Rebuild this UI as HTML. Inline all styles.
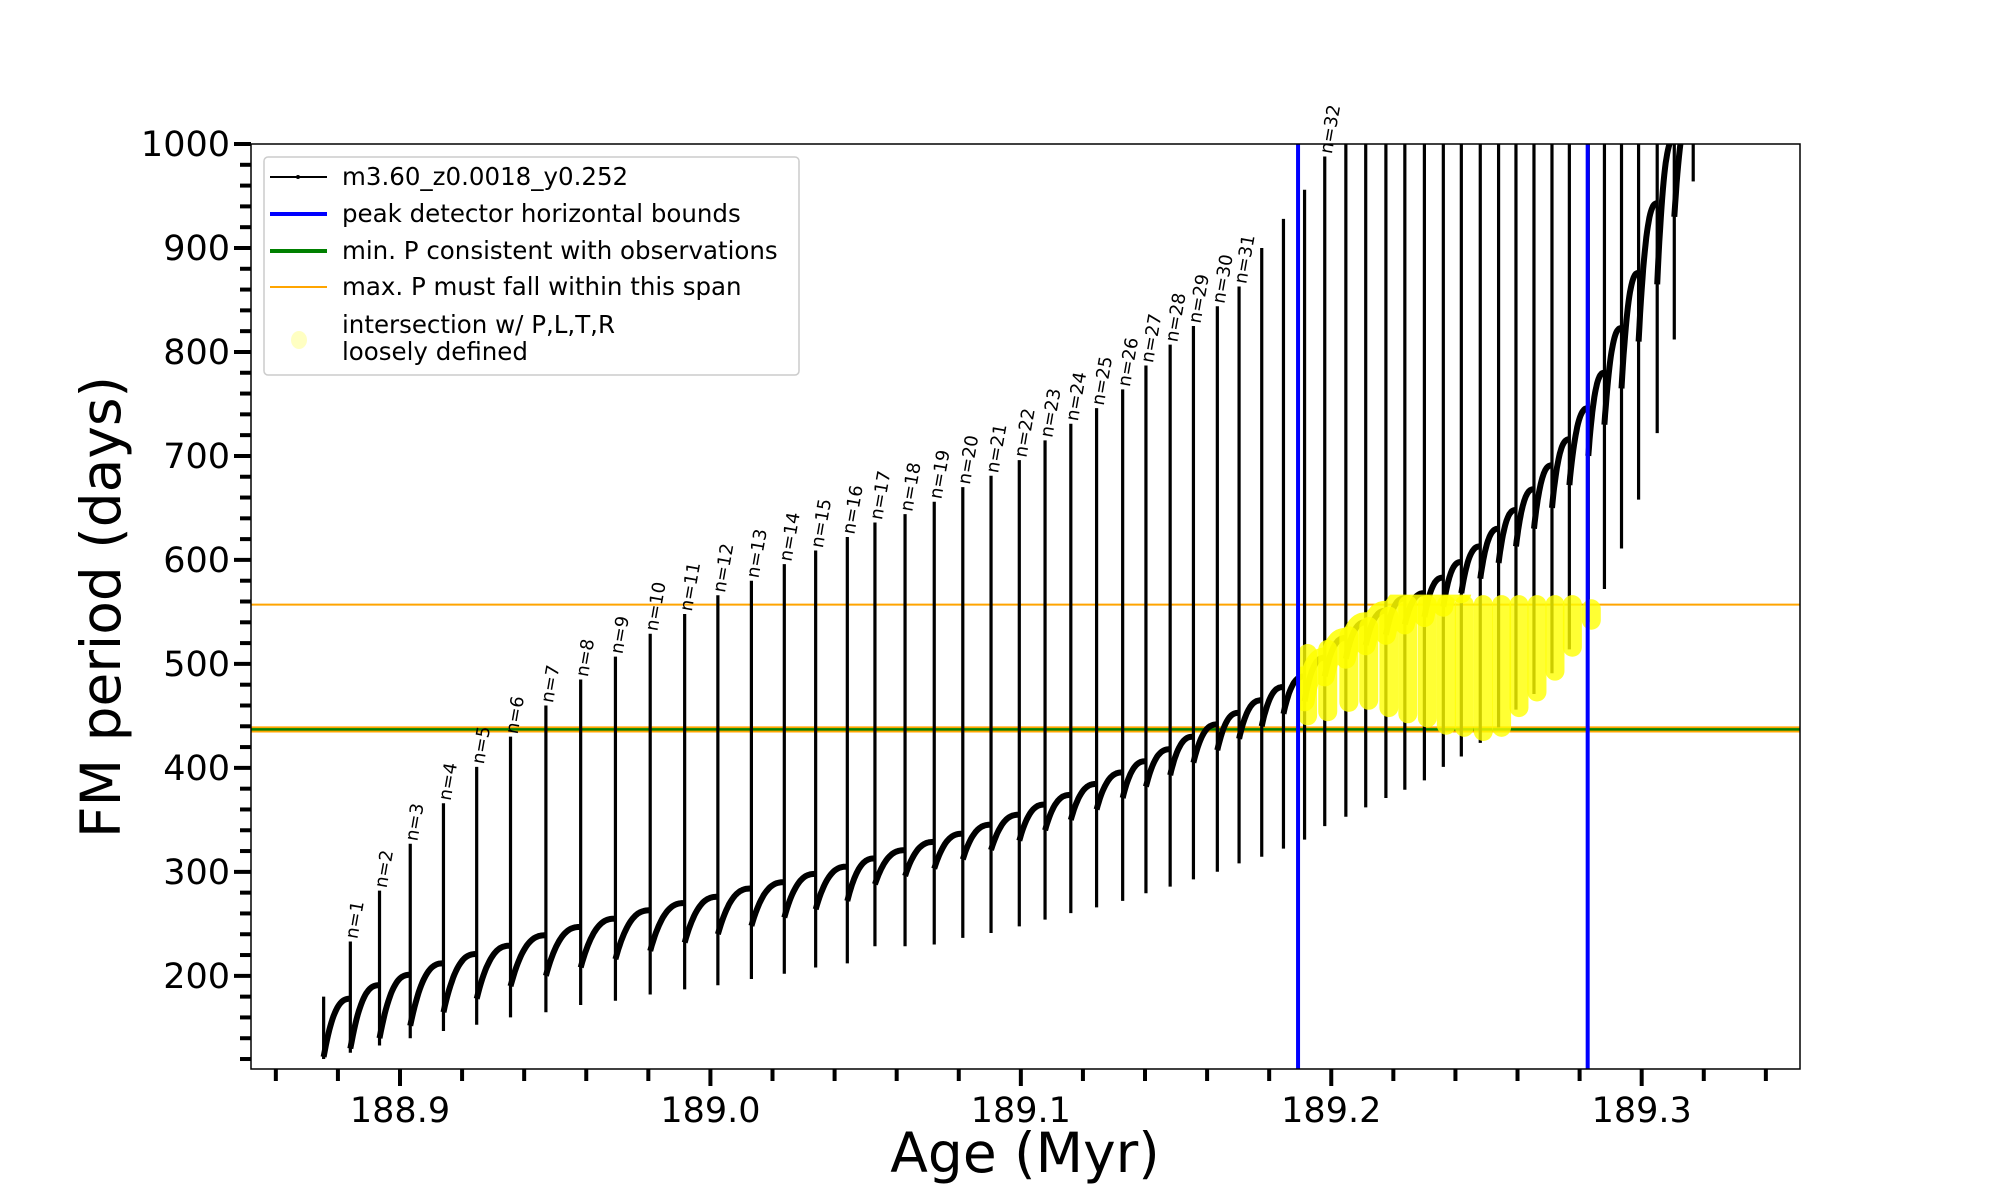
<!DOCTYPE html>
<html><head><meta charset="utf-8"><style>
html,body{margin:0;padding:0;background:#fff;}
svg{display:block;font-family:"DejaVu Sans","Liberation Sans",sans-serif;}
</style></head><body>
<svg id="chart" width="2000" height="1200" viewBox="0 0 2000 1200" xmlns="http://www.w3.org/2000/svg">
<defs>
<clipPath id="plotclip"><rect x="251" y="144" width="1549" height="925"/></clipPath>
<clipPath id="bandclip"><rect id="bandrect" x="0" y="0" width="0" height="0"/></clipPath>
</defs>
<rect x="251" y="144" width="1549" height="925" fill="#fff"/>
<g id="hlines"></g>
<g id="series" clip-path="url(#plotclip)"></g>
<g id="yellow" clip-path="url(#plotclip)"></g>
<g id="vlines"></g>
<g id="labels"></g>
<rect x="251" y="144" width="1549" height="925" fill="none" stroke="#000" stroke-width="1.5"/>
<g id="axes"></g>
<text x="1025" y="1172" font-size="55" text-anchor="middle">Age (Myr)</text>
<text transform="translate(120,607) rotate(-90)" font-size="55" text-anchor="middle">FM period (days)</text>
<g>
<rect x="264" y="157" width="535" height="218" rx="4" fill="#fff" fill-opacity="0.8" stroke="#ccc" stroke-width="1.5"/>
<g><line x1="270" y1="177" x2="327" y2="177" stroke="#000" stroke-width="2"/><circle cx="298" cy="177" r="2" fill="#000"/><text x="342" y="185" font-size="24.5">m3.60_z0.0018_y0.252</text></g>
<g><line x1="270" y1="214" x2="327" y2="214" stroke="#0000ff" stroke-width="4"/><text x="342" y="222" font-size="24.5">peak detector horizontal bounds</text></g>
<g><line x1="270" y1="251" x2="327" y2="251" stroke="#008000" stroke-width="4"/><text x="342" y="259" font-size="24.5">min. P consistent with observations</text></g>
<g><line x1="270" y1="287" x2="327" y2="287" stroke="#ffa500" stroke-width="2"/><text x="342" y="295" font-size="24.5">max. P must fall within this span</text></g>
<g><ellipse cx="299" cy="340" rx="8" ry="9" fill="#ffff99" fill-opacity="0.6"/><text x="342" y="333" font-size="24.5">intersection w/ P,L,T,R</text><text x="342" y="360" font-size="24.5">loosely defined</text></g>
</g>
</svg>
<script>
const spikeAge = [188.8754,188.8840,188.8934,188.9033,188.9140,188.9247,188.9356,188.9470,188.9582,188.9694,188.9806,188.9917,189.0024,189.0132,189.0238,189.0339,189.0441,189.0530,189.0627,189.0721,189.0813,189.0904,189.0995,189.1078,189.1161,189.1244,189.1328,189.1403,189.1481,189.1556,189.1633,189.1703,189.1776,189.1846,189.1914,189.1979,189.2047,189.2111,189.2176,189.2237,189.2300,189.2361,189.2419,189.2480,189.2539,189.2595,189.2653,189.2711,189.2767,189.2828,189.2880,189.2935,189.2990,189.3050,189.3105,189.3166];
const spikeTop = [180,233,282,327,366,401,430,460,485,507,529,548,566,580,596,609,622,636,644,656,670,681,696,715,731,746,764,787,807,825,844,863,900,928,956,988,1010,1010,1010,1010,1010,1010,1010,1010,1010,1010,1010,1010,1010,1010,1010,1010,1010,1010,1010,1000];
const spikeBottom = [120,126,133,140,147,153,160,165,172,176,182,187,191,197,202,208,212,228.5,228.5,230.1,236.5,241.2,247.6,254,260.3,265.8,272.1,279.4,285.8,292.8,300.1,308.1,314.5,322.4,331,344,353,362,371,379,388,401,411,424,439,456,471,491,514,540,572,611,658,722,812,964];
const arcPeak = [178,178,191,201,212,221,229,239,247,255,263,270,276,284,290,298,305,312.9,320.8,328.8,336.7,345.3,354.9,364.7,374,384.5,395.6,406.4,417.9,430,441.8,452.9,465,477.7,487.9,506,525,540,551,563,568,583,598,613,630,648,668,691,716,746,780,823,876,943,1005,1040];
const arcLow = [122,130,140,152,165,178,190,200,208,216,224,232,240,248,256,264,272,288,296,303,312,321,330,340,350,360,371,382,393,405,417,428,440,452,464,488,505,518,528,538,545,555,568,582,597,613,630,650,672,700,730,765,810,865,930,1000];
const finalAge = 189.322, finalP = 1090;
const modeLabels = ["","n=1","n=2","n=3","n=4","n=5","n=6","n=7","n=8","n=9","n=10","n=11","n=12","n=13","n=14","n=15","n=16","n=17","n=18","n=19","n=20","n=21","n=22","n=23","n=24","n=25","n=26","n=27","n=28","n=29","n=30","n=31","","","","n=32"];
const yellowAge = [189.1914,189.1979,189.2047,189.2111,189.2176,189.2237,189.2300,189.2361,189.2419,189.2480,189.2539,189.2595,189.2653,189.2711,189.2767,189.2828];
const yellowLo = [450,454,463,465,458,452,448,441,439,435,439,458,473,493,516,542];
const yellowHi = [510,514,527,536,546,557,557,557,557,557,557,557,557,557,557,553];
const boundAges = [189.1893,189.2826];
const maxPLines = [557,435,439];
const minPLine = [437];
const xMajorTicks = [188.9,189.0,189.1,189.2,189.3];
const xTickLabels = ["188.9","189.0","189.1","189.2","189.3"];
const yMajorTicks = [200,300,400,500,600,700,800,900,1000];
const yTickLabels = ["200","300","400","500","600","700","800","900","1000"];

const X0=251,X1=1800,Y0=144,Y1=1069,AMIN=188.852,AMAX=189.351,PMIN=110.4,PMAX=1000;
function X(a){return X0+(a-AMIN)/(AMAX-AMIN)*(X1-X0);}
function Y(p){return Y0+(PMAX-p)/(PMAX-PMIN)*(Y1-Y0);}
const NS="http://www.w3.org/2000/svg";
function mk(tag,attrs,parent){const e=document.createElementNS(NS,tag);for(const k in attrs)e.setAttribute(k,attrs[k]);parent.appendChild(e);return e;}

function arcD(a0,p0,a1,p1){let d="";for(let k=0;k<=24;k++){const t=k/24;const p=p0+(p1-p0)*(1-Math.pow(1-t,2.6));d+=(k?"L":"M")+X(a0+(a1-a0)*t).toFixed(1)+" "+Y(p).toFixed(1);}return d;}
let arcsD="";
for(let i=0;i<spikeAge.length;i++){
  const a1 = i+1<spikeAge.length?spikeAge[i+1]:finalAge;
  const p1 = i+1<spikeAge.length?arcPeak[i+1]:finalP;
  arcsD+=arcD(spikeAge[i],arcLow[i],a1,p1);
}
const series=document.getElementById('series');
for(let i=0;i<spikeAge.length;i++){
  const s=mk('line',{x1:X(spikeAge[i]),x2:X(spikeAge[i]),y1:Y(spikeBottom[i]),y2:Y(spikeTop[i]),stroke:'#000','stroke-width':3.2},series);
  
  
}
const arcs=mk('path',{d:arcsD,fill:'none',stroke:'#000','stroke-width':6,'stroke-linejoin':'round'},series);



const hl=document.getElementById('hlines');
maxPLines.forEach(p=>{const l=mk('line',{x1:X0,x2:X1,y1:Y(p),y2:Y(p),stroke:'#ffa500','stroke-width':2},hl);
  
  });
minPLine.forEach(p=>{const l=mk('line',{x1:X0,x2:X1,y1:Y(p),y2:Y(p),stroke:'#008000','stroke-width':2.5},hl);
  
  });

const yg=document.getElementById('yellow');
const br=document.getElementById('bandrect');
br.setAttribute('x',X(boundAges[0]));br.setAttribute('width',X(boundAges[1])-X(boundAges[0])+8);
br.setAttribute('y',Y(maxPLines[0])-10);br.setAttribute('height',Y(minPLine[0])-Y(maxPLines[0])+10);
const ya=mk('path',{d:arcsD,fill:'none',stroke:'#ffff00','stroke-width':20,'stroke-linecap':'round','stroke-opacity':0.85,'clip-path':'url(#bandclip)'},yg);


for(let i=0;i<yellowAge.length;i++){
  const x=X(yellowAge[i])+3;
  const l=mk('line',{x1:x,x2:x,y1:Y(yellowLo[i]),y2:Y(yellowHi[i]),stroke:'#ffff00','stroke-width':19,'stroke-linecap':'round','stroke-opacity':0.8},yg);
  
  
}

const vl=document.getElementById('vlines');
boundAges.forEach(a=>{const l=mk('line',{x1:X(a),x2:X(a),y1:Y0,y2:Y1,stroke:'#0000ff','stroke-width':4},vl);
  
  });

const lg=document.getElementById('labels');
modeLabels.forEach((t,i)=>{ if(!t) return;
  const x=X(spikeAge[i])+7, y=Y(Math.min(spikeTop[i],1000))-2;
  const e=mk('text',{transform:`translate(${x.toFixed(1)},${y.toFixed(1)}) rotate(-80)`,'font-size':18},lg);
  e.textContent=t;
  
  
});

const ax=document.getElementById('axes');
for(let v=188.86;v<=189.3401;v+=0.02){
  const major=xMajorTicks.some(m=>Math.abs(m-v)<1e-6);
  const t=mk('line',{x1:X(v),x2:X(v),y1:Y1,y2:Y1+(major?17:12),stroke:'#000','stroke-width':4},ax);
  
  
}
xMajorTicks.forEach((v,i)=>{const e=mk('text',{x:X(v),y:1122,'font-size':35,'text-anchor':'middle'},ax);e.textContent=xTickLabels[i];
  
  });
for(let v=120;v<=1000.01;v+=20){
  const major=yMajorTicks.some(m=>Math.abs(m-v)<1e-6);
  const t=mk('line',{x1:X0,x2:X0-(major?17:11),y1:Y(v),y2:Y(v),stroke:'#000','stroke-width':4},ax);
  
  
}
yMajorTicks.forEach((v,i)=>{const e=mk('text',{x:230,y:Y(v)+12,'font-size':35,'text-anchor':'end'},ax);e.textContent=yTickLabels[i];
  
  });
</script>
</body></html>
